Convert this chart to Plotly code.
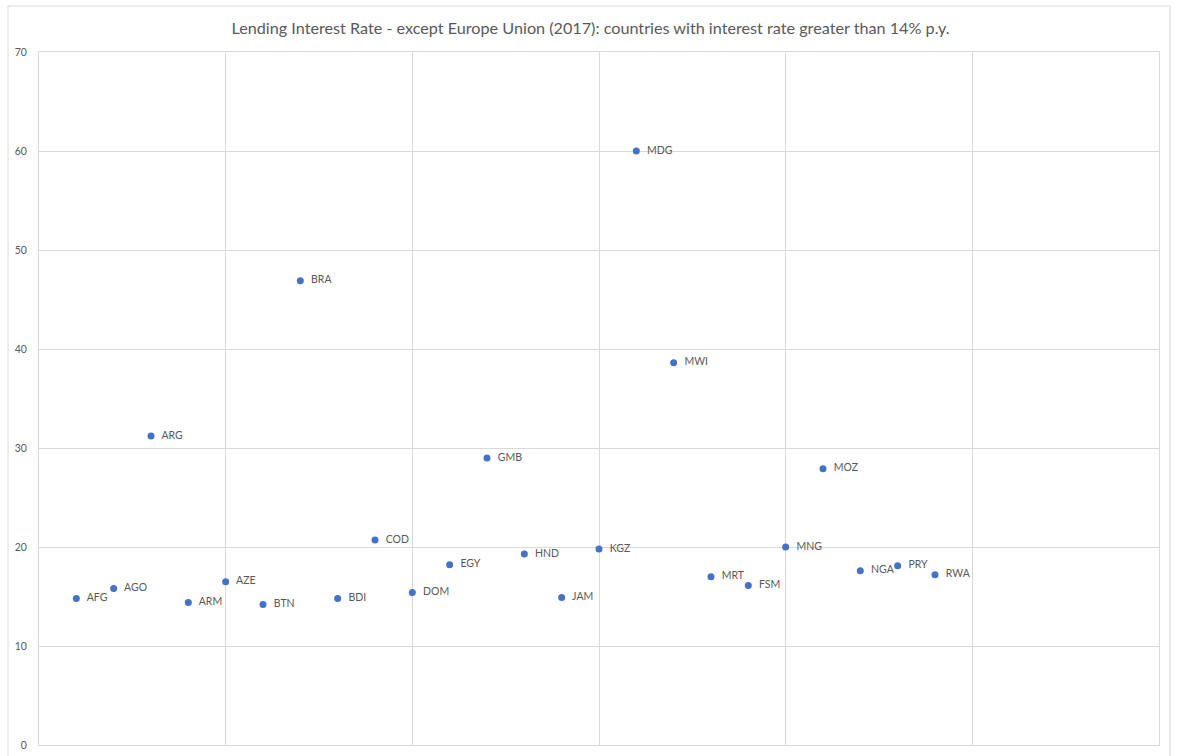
import plotly.graph_objects as go

countries = ["AFG", "AGO", "ARG", "ARM", "AZE", "BTN", "BRA", "BDI", "COD", "DOM",
             "EGY", "GMB", "HND", "JAM", "KGZ", "MDG", "MWI", "MRT", "FSM", "MNG",
             "MOZ", "NGA", "PRY", "RWA"]
index = list(range(1, len(countries) + 1))
rates = [14.8, 15.8, 31.2, 14.4, 16.5, 14.2, 46.9, 14.8, 20.7, 15.4,
         18.2, 29.0, 19.3, 14.9, 19.8, 60.0, 38.6, 17.0, 16.1, 20.0,
         27.9, 17.6, 18.1, 17.2]
y_ticks = [0, 10, 20, 30, 40, 50, 60, 70]

grid = "#d9d9d9"
txt = "#595959"
font_family = "Lato, 'Open Sans', sans-serif"

fig = go.Figure()
fig.add_trace(go.Scatter(
    x=index, y=rates, mode="markers+text",
    text=countries, texttemplate="  %{text}", textposition="middle right",
    textfont=dict(family=font_family, size=10.5, color=txt),
    marker=dict(size=7, color="#4472C4"),
    cliponaxis=False, hoverinfo="x+y+text",
))

fig.update_layout(
    width=1181, height=756,
    margin=dict(l=39, r=22, t=52, b=11, autoexpand=False),
    paper_bgcolor="white", plot_bgcolor="white",
    showlegend=False,
    title=dict(
        text="Lending Interest Rate - except Europe Union (2017): countries with interest rate greater than 14% p.y.",
        x=0.5, xanchor="center", y=1 - 28 / 756, yanchor="middle",
        font=dict(family=font_family, size=16.2, color=txt),
    ),
    xaxis=dict(range=[0, 30], dtick=5, tick0=0, showticklabels=False,
               showgrid=True, gridcolor=grid, gridwidth=1, zeroline=False,
               showline=True, linecolor=grid, linewidth=1, mirror=True, ticks="",
               automargin=False),
    yaxis=dict(range=[0, 70], tickvals=y_ticks, showgrid=True, gridcolor=grid,
               gridwidth=1, zeroline=False, showline=True, linecolor=grid,
               linewidth=1, mirror=True, ticks="", ticklabelstandoff=9,
               automargin=False,
               tickfont=dict(family=font_family, size=10.5, color=txt)),
    shapes=[dict(type="rect", xref="paper", yref="paper",
                 x0=(8 - 39) / 1120, x1=(1170 - 39) / 1120,
                 y0=(745 - 760) / 693, y1=(745 - 6) / 693,
                 line=dict(color=grid, width=1), fillcolor="rgba(0,0,0,0)",
                 layer="below")],
)

fig.write_html("out.html", config={"displayModeBar": False},
               post_script="document.body.style.margin='0';document.body.style.overflow='hidden';")
